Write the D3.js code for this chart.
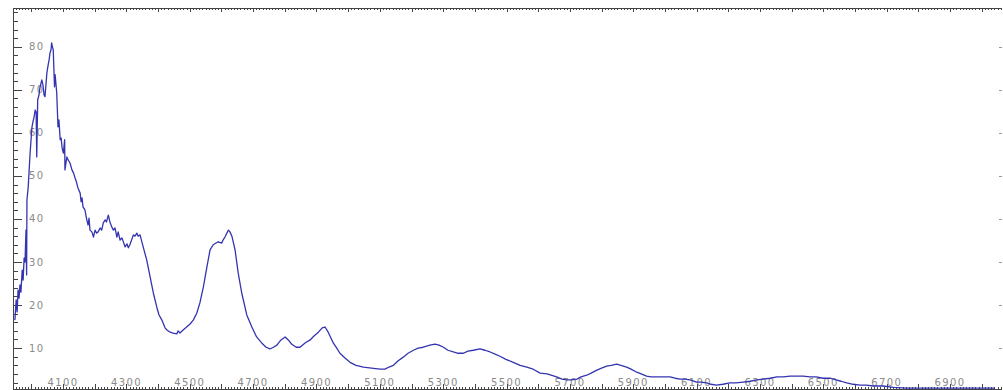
<!DOCTYPE html>
<html>
<head>
<meta charset="utf-8">
<script src="https://cdn.jsdelivr.net/npm/d3@7"></script>
<style>
  html, body { margin: 0; padding: 0; background: #fff; }
  svg { display: block; }
  .lbl { font-family: "DejaVu Sans", Verdana, sans-serif; font-size: 10px; fill: #8a8a8a; letter-spacing: 1.4px; }
</style>
</head>
<body>
<svg id="chart" width="1003" height="390"></svg>
<script>
// Spectrum: wavelength (Å) and relative intensity
const wavelength = [
  3948,3952,3955,3958,3961,3964,3967,3971,3974,3977,3980,3983,3985,3986,3990,3993,3996,3999,
  4002,4005,4008,4012,4015,4017,4020,4024,4027,4033,4037,4040,4043,4046,4049,4053,4056,4059,
  4062,4064,4067,4069,4073,4075,4080,4084,4087,4091,4094,4097,4101,4105,4106,4112,4116,4122,
  4128,4133,4138,4143,4147,4154,4157,4160,4163,4169,4175,4179,4182,4185,4191,4196,4201,4206,
  4211,4217,4222,4227,4233,4237,4243,4248,4254,4259,4264,4270,4274,4280,4286,4296,4302,4306,
  4311,4322,4327,4333,4337,4343,4353,4364,4375,4385,4396,4403,4412,4422,4428,4438,4447,4459,
  4463,4469,4479,4490,4501,4511,4522,4532,4543,4554,4564,4574,4583,4590,4601,4605,4611,4622,
  4627,4633,4643,4653,4664,4680,4696,4711,4727,4741,4753,4764,4775,4788,4801,4811,4822,4836,
  4848,4864,4880,4892,4906,4918,4927,4937,4946,4953,4964,4974,4990,5006,5025,5048,5080,5101,
  5116,5129,5143,5157,5174,5189,5206,5221,5237,5258,5274,5287,5301,5315,5332,5347,5364,5378,
  5395,5416,5432,5448,5464,5479,5498,5521,5543,5564,5584,5606,5628,5658,5675,5690,5704,5722,
  5735,5753,5767,5785,5798,5816,5830,5848,5861,5879,5893,5911,5925,5942,5956,5974,5994,6016,
  6032,6048,6063,6079,6100,6114,6132,6145,6163,6183,6205,6224,6247,6269,6290,6310,6332,6354,
  6374,6395,6416,6436,6458,6477,6500,6521,6540,6556,6574,6594,6616,6635,6658,6688,6721,6763,
  6805,6847,6900,6953,6995,7042
];
const intensity = [
  16.5,21.2,18.4,23.5,21.6,24.7,23.0,28.1,25.8,30.9,30.0,37.4,27.0,44.4,47.4,51.4,55.3,58.4,
  61.4,62.6,63.5,65.3,64.9,54.4,67.7,68.8,70.5,72.3,70.9,68.8,68.4,71.2,74.0,75.8,77.0,78.6,
  79.3,80.9,79.8,79.3,70.7,73.5,69.3,61.4,63.0,58.4,58.8,56.5,55.3,58.4,51.4,54.4,53.7,53.0,
  51.4,50.7,49.5,48.4,47.2,46.0,44.0,44.9,42.8,42.1,39.8,38.6,40.2,37.4,37.0,35.8,37.4,36.7,
  37.0,37.9,37.4,39.1,39.8,39.3,40.9,39.3,38.1,37.4,37.9,35.8,37.0,35.1,35.6,33.5,34.2,33.3,
  34.0,36.3,36.0,36.7,36.0,36.3,33.5,30.5,26.5,22.8,19.5,17.7,16.5,14.7,14.2,13.7,13.5,13.3,
  14.0,13.5,14.2,14.9,15.6,16.5,18.1,20.5,24.2,28.8,32.8,34.0,34.4,34.7,34.4,35.1,35.8,37.4,
  37.0,36.0,32.8,27.4,22.8,17.7,14.9,12.6,11.2,10.2,9.8,10.2,10.7,11.9,12.6,11.9,10.9,10.2,
  10.2,11.2,11.9,12.8,13.7,14.7,14.9,13.7,12.3,11.2,10.0,8.8,7.7,6.7,6.0,5.6,5.3,5.1,
  5.1,5.6,6.0,7.0,7.9,8.8,9.5,10.0,10.2,10.7,10.9,10.7,10.2,9.5,9.1,8.8,8.8,9.3,
  9.5,9.8,9.5,9.1,8.6,8.1,7.4,6.7,6.0,5.6,5.1,4.2,4.0,3.3,2.8,2.6,2.6,2.8,
  3.3,3.7,4.2,4.9,5.3,5.8,6.0,6.3,6.0,5.6,5.1,4.4,4.0,3.5,3.3,3.3,3.3,3.3,
  3.0,2.8,2.8,2.6,2.1,2.1,1.9,1.6,1.4,1.6,1.9,1.9,2.1,2.3,2.6,2.8,3.0,3.3,
  3.3,3.5,3.5,3.5,3.3,3.3,3.0,3.0,2.6,2.3,1.9,1.6,1.4,1.4,1.2,1.2,0.9,0.7,
  0.7,0.7,0.7,0.7,0.7,0.7
];
const xTickLabels = [4100,4300,4500,4700,4900,5100,5300,5500,5700,5900,6100,6300,6500,6700,6900];
const yTickLabels = [10,20,30,40,50,60,70,80];

const svg = d3.select("#chart");
const plotLeft = 13, plotRight = 1002, plotTop = 8, plotBottom = 389;

const x = d3.scaleLinear().domain([3942, 7064]).range([plotLeft, plotRight]);
const y = d3.scaleLinear().domain([0.5, 89]).range([plotBottom, plotTop]);

const frame = svg.append("g").attr("stroke", "#444").attr("stroke-width", 1).attr("shape-rendering", "crispEdges");

// frame lines (the right edge carries ticks only)
frame.append("line").attr("x1", plotLeft).attr("x2", plotRight).attr("y1", plotTop + 0.5).attr("y2", plotTop + 0.5);
frame.append("line").attr("x1", plotLeft).attr("x2", plotRight).attr("y1", plotBottom + 0.5).attr("y2", plotBottom + 0.5);
frame.append("line").attr("x1", plotLeft + 0.5).attr("x2", plotLeft + 0.5).attr("y1", plotTop).attr("y2", plotBottom);

// dense wavelength ticks on the top and bottom edges
const fineX = d3.range(3950, 7064, 10);
frame.selectAll("line.tt").data(fineX).join("line").attr("class", "tt")
  .attr("x1", d => Math.round(x(d)) + 0.5).attr("x2", d => Math.round(x(d)) + 0.5)
  .attr("y1", plotTop).attr("y2", d => plotTop + (d % 100 === 0 ? 4 : 2));
frame.selectAll("line.bt").data(fineX).join("line").attr("class", "bt")
  .attr("x1", d => Math.round(x(d)) + 0.5).attr("x2", d => Math.round(x(d)) + 0.5)
  .attr("y1", plotBottom).attr("y2", d => plotBottom - (d % 100 === 0 ? 5 : 2));

// intensity ticks on the left (every 2) and right (every 10)
const fineY = d3.range(2, 89, 2);
frame.selectAll("line.lt").data(fineY).join("line").attr("class", "lt")
  .attr("y1", d => Math.round(y(d)) + 0.5).attr("y2", d => Math.round(y(d)) + 0.5)
  .attr("x1", plotLeft).attr("x2", d => plotLeft + (d % 10 === 0 ? 9 : 5));
frame.selectAll("line.rt").data(yTickLabels).join("line").attr("class", "rt")
  .attr("stroke", "#999")
  .attr("y1", d => Math.round(y(d)) + 0.5).attr("y2", d => Math.round(y(d)) + 0.5)
  .attr("x1", plotRight).attr("x2", plotRight - 3);

// tick labels, drawn inside the frame
svg.append("g").selectAll("text").data(yTickLabels).join("text")
  .attr("class", "lbl")
  .attr("x", plotLeft + 16).attr("y", d => y(d)).attr("dy", "0.35em")
  .text(d => d);
svg.append("g").selectAll("text").data(xTickLabels).join("text")
  .attr("class", "lbl")
  .attr("x", d => x(d)).attr("y", plotBottom - 3)
  .attr("text-anchor", "middle")
  .text(d => d);

// spectrum trace
const pts = wavelength.map((w, i) => [w, intensity[i]]);
const line = d3.line().x(d => x(d[0])).y(d => y(d[1]));
svg.append("path").datum(pts)
  .attr("d", line)
  .attr("fill", "none")
  .attr("stroke", "#3434b0")
  .attr("stroke-width", 1.3)
  .attr("stroke-linejoin", "round");
</script>
</body>
</html>
